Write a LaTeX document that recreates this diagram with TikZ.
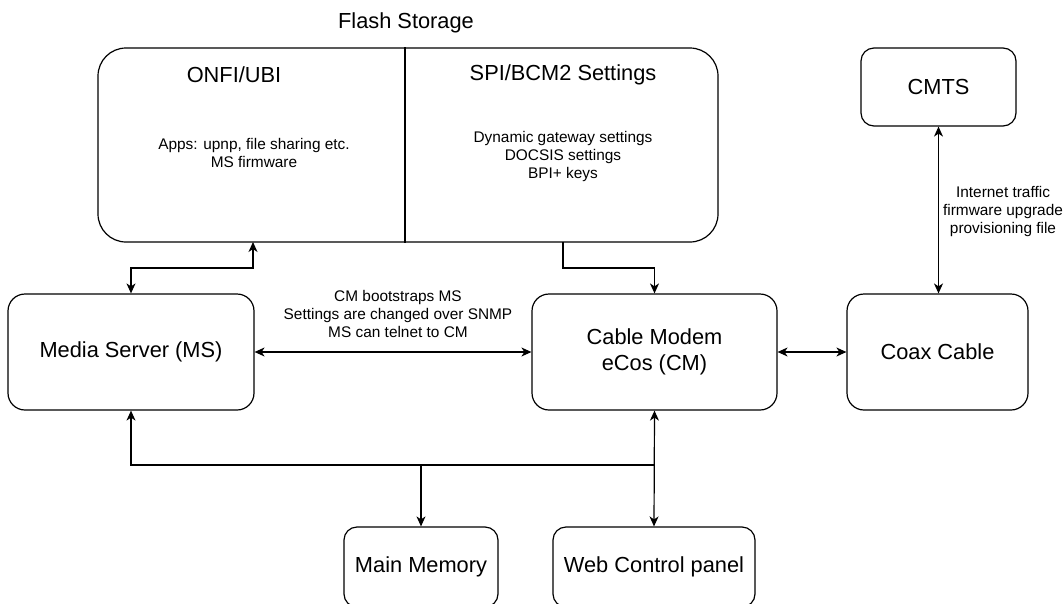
\documentclass[tikz,border=0pt]{standalone}
\usepackage{fontspec}
\setmainfont{Liberation Sans}
\usetikzlibrary{arrows.meta,calc}
\begin{document}
\begin{tikzpicture}[x=1pt,y=-1pt,
  box/.style={draw, line width=1.2pt, rounded corners=#1, inner sep=0pt},
  box/.default=17pt,
  big/.style={font={\fontsize{21.8}{26}\selectfont}, align=center, inner sep=0pt},
  small/.style={font={\fontsize{15.4}{18}\selectfont}, align=center, inner sep=0pt},
  conn/.style={line width=1.2pt, >={Stealth[length=10pt,width=9pt,inset=3pt]}}
]
\useasboundingbox (0,0) rectangle (1063,603);
\clip (0,0) rectangle (1063,603);

% Flash storage
\node[big] (flashlbl) at (406,23) {Flash Storage};
\node[box=28pt, minimum width=620pt, minimum height=194pt] (flash) at (408,145) {};
\draw[line width=1.2pt] (flash.north -| 405,0) coordinate (divtop) -- (flash.south -| 405,0) coordinate (divbot);
\node[big] (onfi) at (234,75) {ONFI/UBI};
\node[small] (apps) at (254,153) {Apps: upnp, file sharing etc.\\MS firmware};
\node[big] (spi) at (563,75) {SPI/BCM2 Settings};
\node[small] (dyn) at (563,157) {Dynamic gateway settings\\DOCSIS settings\\BPI+ keys};

% Main boxes
\node[box=17pt, minimum width=246pt, minimum height=116pt, big] (ms) at (131,352) {Media Server (MS)};
\node[box=17pt, minimum width=245pt, minimum height=116pt, big] (cm) at (654.5,352) {Cable Modem\\eCos (CM)};
\node[box=17pt, minimum width=181pt, minimum height=116pt, big] (coax) at (937.5,352) {Coax Cable};
\node[box=13pt, minimum width=155pt, minimum height=78pt, big] (cmts) at (938.5,87) {CMTS};
\node[box=13pt, minimum width=154pt, minimum height=80pt, big] (mm) at (421,567) {Main Memory};
\node[box=13pt, minimum width=202pt, minimum height=80pt, big] (web) at (654,567) {Web Control panel};

% Connectors
\coordinate (fL) at (253,242);
\coordinate (fR) at (563,242);
\draw[conn,<->] (fL) -- (253,268) -| (ms.north);
\draw[conn,->] (fR) -- (563,268) -| (cm.north);

\draw[conn,<->] (ms.east) -- (cm.west);
\node[small] (mscmlbl) at (398,314) {CM bootstraps MS\\Settings are changed over SNMP\\MS can telnet to CM};

\draw[conn,<->] (cm.east) -- (coax.west);

\draw[conn,<->] (cmts.south) -- (cmts.south |- coax.north);
\node[small] (cmtslbl) at (1003,212) {Internet traffic\\firmware upgrade\\provisioning file};

\coordinate (bus) at (654,465);
\draw[conn,->] (bus) -| (ms.south);
\draw[conn,<->] (cm.south) -- (web.north);
\draw[conn,->] (bus -| mm.north) -- (mm.north);
\end{tikzpicture}
\end{document}
